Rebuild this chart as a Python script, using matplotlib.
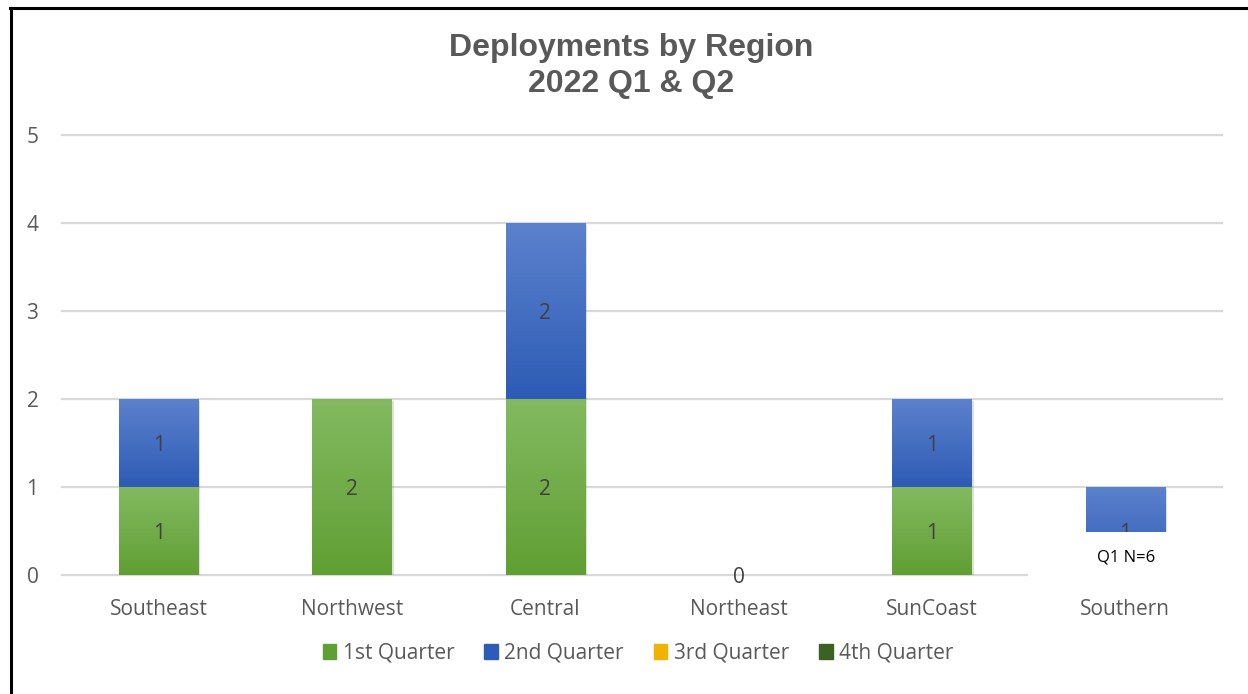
import numpy as np
import matplotlib
matplotlib.use("Agg")
import matplotlib.pyplot as plt
from matplotlib.patches import Rectangle
from matplotlib.lines import Line2D
from matplotlib.colors import LinearSegmentedColormap
import matplotlib.patheffects as pe

regions = ["Southeast", "Northwest", "Central", "Northeast", "SunCoast", "Southern"]
q1 = [1, 2, 2, 0, 1, 0]
q2 = [1, 0, 2, 0, 1, 1]
series_names = ["1st Quarter", "2nd Quarter", "3rd Quarter", "4th Quarter"]
yticks = [0, 1, 2, 3, 4, 5]
title = "Deployments by Region\n2022 Q1 & Q2"
note = "Q1 N=6"

W, H = 1248, 694
fig = plt.figure(figsize=(W / 100, H / 100), dpi=100)
ax = fig.add_axes([62 / W, (H - 575) / H, (1222 - 62) / W, (575 - 135) / H])

green = ("#83ba61", "#609f33")
blue = ("#5c82cd", "#2d5bb5")
gold = ("#ffc72c", "#f0b400")
dkgreen = ("#4e7b2e", "#3a6222")

x = np.arange(len(regions))
width = 0.41
tick_font = "Open Sans"
txt_gray = "#595959"
fs = 15

def gradient_bars(bars, cols):
    cmap = LinearSegmentedColormap.from_list("g", [cols[1], cols[0]])
    grad = np.linspace(0, 1, 256).reshape(-1, 1)
    for b in bars:
        h = b.get_height()
        if h <= 0:
            continue
        x0, y0 = b.get_x(), b.get_y()
        im = ax.imshow(grad, cmap=cmap, origin="lower", aspect="auto",
                       extent=[x0, x0 + b.get_width(), y0, y0 + h], zorder=3)
        im.set_clip_path(b)

shadow = [pe.SimplePatchShadow(offset=(1.5, -1.5), alpha=0.25, shadow_rgbFace="#808080"), pe.Normal()]
b1 = ax.bar(x, q1, width, color=green[1], zorder=2, linewidth=0, path_effects=shadow)
b2 = ax.bar(x, q2, width, bottom=q1, color=blue[1], zorder=2, linewidth=0, path_effects=shadow)
gradient_bars(b1, green)
gradient_bars(b2, blue)

# data labels
for i in range(len(regions)):
    ax.text(x[i], q1[i] / 2, str(q1[i]), ha="center", va="center_baseline",
            fontsize=fs, family=tick_font, color="#404040", zorder=5)
    if q2[i] > 0:
        ax.text(x[i], q1[i] + q2[i] / 2, str(q2[i]), ha="center", va="center_baseline",
                fontsize=fs, family=tick_font, color="#404040", zorder=5)

ax.set_xlim(-0.5, len(regions) - 0.5)
ax.set_ylim(0, 5)
ax.set_yticks(yticks)
ax.set_xticks(x)
ax.set_xticklabels(regions)
ax.yaxis.grid(True, color="#d9d9d9", linewidth=1.6, zorder=0)
for gl in ax.get_ygridlines():
    gl.set_clip_on(False)
ax.set_axisbelow(True)
for s in ax.spines.values():
    s.set_visible(False)
ax.tick_params(axis="both", length=0, labelsize=fs, labelcolor=txt_gray)
ax.tick_params(axis="y", pad=17)
ax.tick_params(axis="x", pad=17)
for lab in ax.get_xticklabels() + ax.get_yticklabels():
    lab.set_family(tick_font)

# title
fig.text(631 / W, 1 - 66 / H, title, ha="center", va="center", fontsize=23,
         fontweight="bold", family="Liberation Sans", color=txt_gray, linespacing=1.25)

# legend
handles = [Rectangle((0, 0), 1, 1, color=c[1]) for c in (green, blue, gold, dkgreen)]
leg = fig.legend(handles, series_names, loc="center", bbox_to_anchor=(638 / W, 1 - 653 / H),
                 ncol=4, frameon=False, handlelength=0.65, handleheight=0.7,
                 handletextpad=0.3, columnspacing=1.45,
                 prop={"family": tick_font, "size": fs})
for t in leg.get_texts():
    t.set_color(txt_gray)

# note box over Southern
fig.patches.append(Rectangle((1028 / W, 1 - 590 / H), (1224 - 1028) / W, (590 - 532) / H,
                             transform=fig.transFigure, facecolor="white", edgecolor="none", zorder=10))
fig.text(1126 / W, 1 - 557 / H, note, ha="center", va="center", fontsize=12,
         family=tick_font, color="black", zorder=11)

# outer border (left and top)
fig.add_artist(Line2D([11 / W, 11 / W], [0, 1 - 8 / H], transform=fig.transFigure, color="black", linewidth=2.2))
fig.add_artist(Line2D([10 / W, 1], [1 - 8 / H, 1 - 8 / H], transform=fig.transFigure, color="black", linewidth=2.2))

fig.savefig("out.png", dpi=100)
